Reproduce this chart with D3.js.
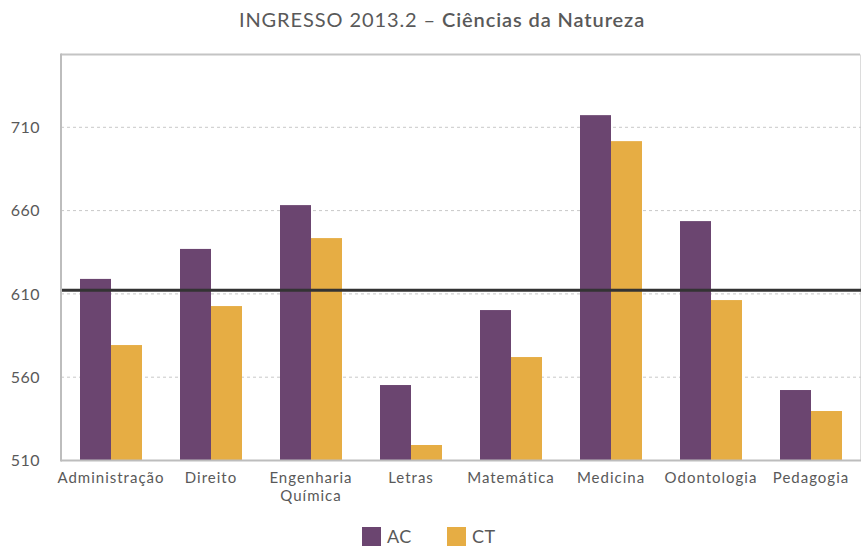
<!DOCTYPE html>
<html><head><meta charset="utf-8">
<script src="https://cdn.jsdelivr.net/npm/d3@7"></script>
<style>
body{margin:0;background:#fff;}
text{font-family:Lato,"Open Sans",sans-serif;fill:#595959;}
</style></head>
<body><svg id="c" width="861" height="546"></svg>
<script>
const categories = ["Administração","Direito","Engenharia Química","Letras","Matemática","Medicina","Odontologia","Pedagogia"];
const seriesNames = ["AC","CT"];
const acValues = [619, 637, 663.3, 555.3, 600.3, 717.3, 653.7, 552.3];
const ctValues = [579.3, 602.7, 643.5, 519.3, 572.1, 701.7, 606.3, 539.7];
const referenceValue = 612.2;
const yTicks = [510, 560, 610, 660, 710];
const yDomain = [510, 753.7];
const colors = ["#6b4570", "#e6ad44"];

const svg = d3.select("#c");
const L = 61, R = 861, T = 54.5, B = 460.5;

const x0 = d3.scaleBand().domain(categories).range([L, R]).paddingInner(0.38).paddingOuter(0.19);
const x1 = d3.scaleBand().domain(seriesNames).range([0, x0.bandwidth()]);
const y = d3.scaleLinear().domain(yDomain).range([B, T]);

// title
const title = svg.append("text").attr("x", 442).attr("y", 27).attr("text-anchor","middle")
  .style("font-size","20px").style("letter-spacing","0.9px");
title.append("tspan").text("INGRESSO 2013.2 – ");
title.append("tspan").style("font-weight","600").text("Ciências da Natureza");

// frame
svg.append("line").attr("x1",L).attr("x2",R-1).attr("y1",T).attr("y2",T).attr("stroke","#c4c4c4").attr("stroke-width",2);
svg.append("line").attr("x1",R-0.5).attr("x2",R-0.5).attr("y1",T).attr("y2",B).attr("stroke","#dcdcdc").attr("stroke-width",1);

// grid
svg.append("g").selectAll("line").data(yTicks.filter(d=>d>yDomain[0])).join("line")
  .attr("x1",L).attr("x2",R).attr("y1",d=>y(d)).attr("y2",d=>y(d))
  .attr("stroke","#c8c8c8").attr("stroke-width",1).attr("stroke-dasharray","3,3");

// bars
const data = categories.map((c,i)=>({c, vals:[acValues[i], ctValues[i]]}));
const g = svg.append("g").selectAll("g").data(data).join("g")
  .attr("transform", d=>`translate(${x0(d.c)},0)`);
g.selectAll("rect").data(d=>d.vals.map((v,j)=>({k:seriesNames[j], v, j}))).join("rect")
  .attr("x", d=>x1(d.k)).attr("width", x1.bandwidth())
  .attr("y", d=>y(d.v)).attr("height", d=>B - y(d.v))
  .attr("fill", d=>colors[d.j]);

// reference line
svg.append("line").attr("x1",L).attr("x2",R).attr("y1",y(referenceValue)).attr("y2",y(referenceValue))
  .attr("stroke","#333333").attr("stroke-width",3);

// axes lines
svg.append("line").attr("x1",L).attr("x2",L).attr("y1",T-1).attr("y2",B+1).attr("stroke","#bdbdbd").attr("stroke-width",2);
svg.append("line").attr("x1",L).attr("x2",R).attr("y1",B).attr("y2",B).attr("stroke","#bdbdbd").attr("stroke-width",2);

// y labels
svg.append("g").selectAll("text").data(yTicks).join("text")
  .attr("x", 40).attr("y", d=>y(d)).attr("dy","0.35em").attr("text-anchor","end")
  .style("font-size","16px").style("letter-spacing","0.5px").text(d=>d);

// x labels
svg.append("g").selectAll("text").data(categories).join("text")
  .attr("x", d=>x0(d)+x0.bandwidth()/2).attr("y", 483).attr("text-anchor","middle")
  .style("font-size","15px").style("letter-spacing","1px")
  .each(function(d){
    const words = d.split(" ");
    const t = d3.select(this);
    if (words.length>1){
      words.forEach((w,i)=>t.append("tspan").attr("x", x0(d)+x0.bandwidth()/2).attr("dy", i===0?0:"1.2em").text(w));
    } else t.text(d);
  });

// legend
const lg = svg.append("g").selectAll("g").data(seriesNames).join("g")
  .attr("transform",(d,i)=>`translate(${362 + i*85},527)`);
lg.append("rect").attr("width",19).attr("height",19).attr("fill",(d,i)=>colors[i]);
lg.append("text").attr("x",25).attr("y",9.5).attr("dy","0.36em").style("font-size","18px").style("letter-spacing","0.5px").text(d=>d);
</script></body></html>
